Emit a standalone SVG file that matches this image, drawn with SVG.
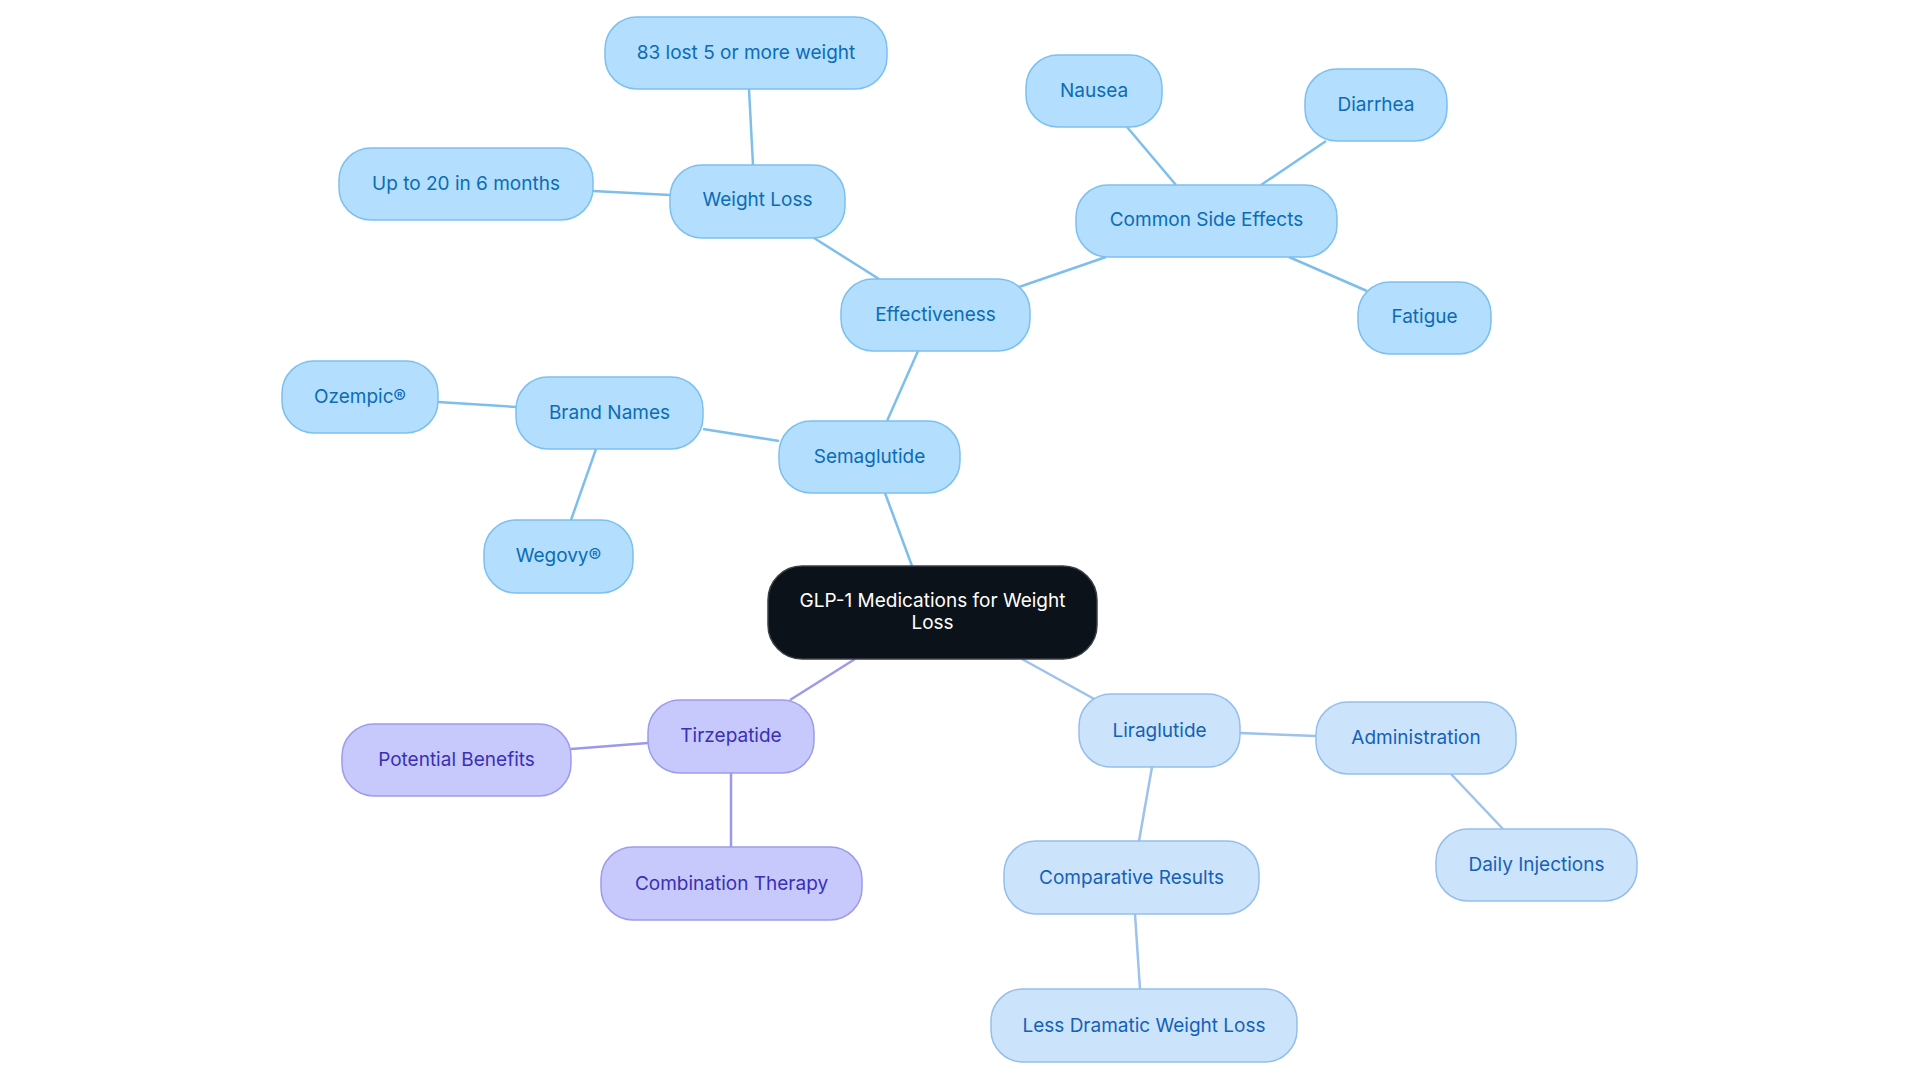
<svg xmlns="http://www.w3.org/2000/svg" width="1920" height="1083" viewBox="0 0 1920 1083">
<style>
.n rect{stroke-width:1.5}
.b rect{fill:#B3DEFD;stroke:#7CC0EE}
.b text{fill:#0B6CB5}
.l rect{fill:#CCE4FB;stroke:#95BEEC}
.l text{fill:#1560B8}
.p rect{fill:#C7C9FC;stroke:#9C9CEA}
.p text{fill:#3A2FB5}
.c rect{fill:#0C121A;stroke:#3a3f46}
.c text{fill:#ffffff}
text{font-family:Inter,"Noto Sans",sans-serif;font-size:19px;text-anchor:middle;dominant-baseline:central}
.e line{stroke-width:2.5;fill:none}
.eb{stroke:#7DBFEA}
.el{stroke:#9DC2EC}
.ep{stroke:#9C9AE8}
</style>
<rect width="1920" height="1083" fill="#ffffff"/>
<g id="connectors" class="e">
<line class="eb" x1="912" y1="566" x2="885" y2="493"/>
<line class="eb" x1="887" y1="421" x2="918" y2="351"/>
<line class="eb" x1="879" y1="279" x2="814" y2="238"/>
<line class="eb" x1="753" y1="165" x2="749" y2="89"/>
<line class="eb" x1="670" y1="195" x2="593" y2="191"/>
<line class="eb" x1="1019" y1="287" x2="1106" y2="257"/>
<line class="eb" x1="1176" y1="185" x2="1127" y2="127"/>
<line class="eb" x1="1261" y1="185" x2="1326" y2="141"/>
<line class="eb" x1="1289" y1="257" x2="1367" y2="291"/>
<line class="eb" x1="779" y1="441" x2="703" y2="429"/>
<line class="eb" x1="516" y1="407" x2="438" y2="402"/>
<line class="eb" x1="596" y1="449" x2="571" y2="520"/>
<line class="ep" x1="855" y1="659" x2="790" y2="700"/>
<line class="ep" x1="648" y1="743" x2="571" y2="749"/>
<line class="ep" x1="731" y1="773" x2="731" y2="847"/>
<line class="el" x1="1022" y1="659" x2="1096" y2="700"/>
<line class="el" x1="1240" y1="733" x2="1316" y2="736"/>
<line class="el" x1="1451" y1="774" x2="1503" y2="829"/>
<line class="el" x1="1152" y1="767" x2="1139" y2="841"/>
<line class="el" x1="1135" y1="914" x2="1140" y2="989"/>
</g>
<g id="center" class="n c"><rect x="768" y="566" width="329" height="93" rx="34"/><text x="932.5" y="600">GLP-1 Medications for Weight</text><text x="932.5" y="622">Loss</text></g>
<g id="semaglutide" class="n b"><rect x="779" y="421" width="181" height="72" rx="32"/><text x="869.5" y="456">Semaglutide</text></g>
<g id="effectiveness" class="n b"><rect x="841" y="279" width="189" height="72" rx="32"/><text x="935.5" y="314">Effectiveness</text></g>
<g id="weight-loss" class="n b"><rect x="670" y="165" width="175" height="73" rx="32"/><text x="757.5" y="199">Weight Loss</text></g>
<g id="lost-83" class="n b"><rect x="605" y="17" width="282" height="72" rx="32"/><text x="746" y="52">83 lost 5 or more weight</text></g>
<g id="up-to-20" class="n b"><rect x="339" y="148" width="254" height="72" rx="32"/><text x="466" y="183">Up to 20 in 6 months</text></g>
<g id="side-effects" class="n b"><rect x="1076" y="185" width="261" height="72" rx="32"/><text x="1206.5" y="219">Common Side Effects</text></g>
<g id="nausea" class="n b"><rect x="1026" y="55" width="136" height="72" rx="32"/><text x="1094" y="90">Nausea</text></g>
<g id="diarrhea" class="n b"><rect x="1305" y="69" width="142" height="72" rx="32"/><text x="1376" y="104">Diarrhea</text></g>
<g id="fatigue" class="n b"><rect x="1358" y="282" width="133" height="72" rx="32"/><text x="1424.5" y="316">Fatigue</text></g>
<g id="brand-names" class="n b"><rect x="516" y="377" width="187" height="72" rx="32"/><text x="609.5" y="412">Brand Names</text></g>
<g id="ozempic" class="n b"><rect x="282" y="361" width="156" height="72" rx="32"/><text x="360" y="396">Ozempic®</text></g>
<g id="wegovy" class="n b"><rect x="484" y="520" width="149" height="73" rx="32"/><text x="558.5" y="555">Wegovy®</text></g>
<g id="tirzepatide" class="n p"><rect x="648" y="700" width="166" height="73" rx="32"/><text x="731" y="735">Tirzepatide</text></g>
<g id="potential-benefits" class="n p"><rect x="342" y="724" width="229" height="72" rx="32"/><text x="456.5" y="759">Potential Benefits</text></g>
<g id="combination-therapy" class="n p"><rect x="601" y="847" width="261" height="73" rx="32"/><text x="731.5" y="883">Combination Therapy</text></g>
<g id="liraglutide" class="n l"><rect x="1079" y="694" width="161" height="73" rx="32"/><text x="1159.5" y="730">Liraglutide</text></g>
<g id="administration" class="n l"><rect x="1316" y="702" width="200" height="72" rx="32"/><text x="1416" y="737">Administration</text></g>
<g id="daily-injections" class="n l"><rect x="1436" y="829" width="201" height="72" rx="32"/><text x="1536.5" y="864">Daily Injections</text></g>
<g id="comparative-results" class="n l"><rect x="1004" y="841" width="255" height="73" rx="32"/><text x="1131.5" y="877">Comparative Results</text></g>
<g id="less-dramatic" class="n l"><rect x="991" y="989" width="306" height="73" rx="32"/><text x="1144" y="1025">Less Dramatic Weight Loss</text></g>
</svg>
